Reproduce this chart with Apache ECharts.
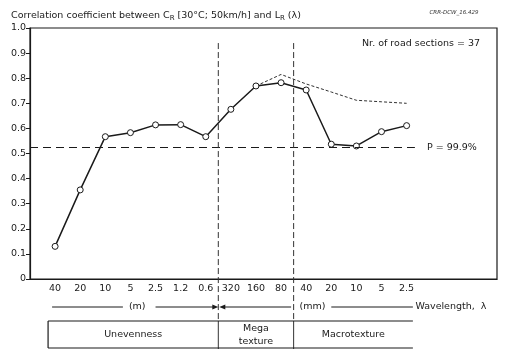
<!DOCTYPE html>
<html><head><meta charset="utf-8">
<script src="https://cdn.jsdelivr.net/npm/echarts@6/dist/echarts.min.js"></script>
<style>html,body{margin:0;padding:0;background:#fff}#c{width:507px;height:356px}</style>
</head><body><div id="c"></div>
<script>
// ---- data ----
const wavelengthLabels = ['40','20','10','5','2.5','1.2','0.6','320','160','80','40','20','10','5','2.5'];
const correlation      = [0.13,0.355,0.567,0.583,0.614,0.615,0.567,0.676,0.769,0.782,0.753,0.537,0.530,0.587,0.611];
const correlationUpper = [null,null,null,null,null,null,null,null,0.769,0.815,0.777,0.745,0.712,0.706,0.700];
const significanceLevel = 0.525;
const significanceLabel = 'P = 99.9%';
const regionBoundaries = [6.5, 9.5];
const regionNames = ['Unevenness', 'Mega\ntexture', 'Macrotexture'];
const yTickMin = 0, yTickMax = 1.0, yTickStep = 0.1;

const FONT = 'DejaVu Sans';
const INK = '#1a1a1a';
const chart = echarts.init(document.getElementById('c'), null, {renderer: 'canvas'});

const pairs = arr => arr.map((v, i) => [i, v]);

chart.setOption({
  animation: false,
  backgroundColor: '#fff',
  textStyle: {fontFamily: FONT, color: INK},
  title: {
    left: 6, top: 5,
    text: '{a|Correlation coefficient between C}{s|R}{a| [30°C; 50km/h] and L}{s|R}{a| (λ)}',
    textStyle: {
      fontWeight: 'normal',
      rich: {
        a: {fontFamily: FONT, fontSize: 9.5, fontWeight: 'normal', color: INK},
        s: {fontFamily: FONT, fontSize: 7, fontWeight: 'normal', color: INK, verticalAlign: 'bottom', padding: [5, 0, 0, 0]}
      }
    }
  },
  grid: {left: 30, right: 10, top: 28, bottom: 77, show: true, borderColor: INK, borderWidth: 1.2, containLabel: false},
  xAxis: {
    type: 'value', min: -1, max: 17.6, interval: 1,
    axisLine: {show: true, onZero: false, lineStyle: {color: INK, width: 1.2}},
    axisTick: {show: false},
    splitLine: {show: false},
    axisLabel: {
      showMaxLabel: false, showMinLabel: false,
      fontFamily: FONT, fontSize: 9.5, color: INK, margin: 5,
      formatter: v => (Number.isInteger(v) && v >= 0 && v < wavelengthLabels.length) ? wavelengthLabels[v] : ''
    }
  },
  yAxis: {
    type: 'value', min: yTickMin, max: yTickMax, interval: yTickStep,
    axisLine: {show: true, onZero: false, lineStyle: {color: INK, width: 1.2}},
    axisTick: {show: true, length: 4, lineStyle: {color: INK}},
    splitLine: {show: false},
    axisLabel: {fontFamily: FONT, fontSize: 9.5, color: INK, margin: 4,
      formatter: v => v === 0 ? '0' : v.toFixed(1)}
  },
  series: [
    {
      type: 'line', data: pairs(correlationUpper), showSymbol: false, connectNulls: false,
      lineStyle: {color: INK, width: 0.9, type: [3, 2]}, z: 2
    },
    {
      type: 'line', data: pairs(correlation), symbol: 'circle', symbolSize: 6,
      itemStyle: {color: '#fff', borderColor: INK, borderWidth: 1},
      lineStyle: {color: INK, width: 1.5}, z: 3,
      markLine: {
        silent: true, symbol: ['none', 'none'],
        lineStyle: {color: INK, width: 1.1, type: [8, 5]},
        label: {show: true, position: 'end', distance: 12, formatter: significanceLabel,
          fontFamily: FONT, fontSize: 9.5, color: INK},
        data: [[{coord: [-1, significanceLevel]}, {coord: [14.33, significanceLevel]}]]
      }
    }
  ]
});

// ---- annotations derived from the axes ----
const px = v => chart.convertToPixel({xAxisIndex: 0}, v);
const py = v => chart.convertToPixel({yAxisIndex: 0}, v);
const b1 = px(regionBoundaries[0]), b2 = px(regionBoundaries[1]);
const unitY = 307, boxTop = 321, boxBot = 348;
const boxLeft = px(-0.28), boxRight = px(14.25);
const txt = (x, y, s, o = {}) => ({type: 'text', x, y, style: Object.assign({text: s, fontFamily: FONT, fontSize: 9.5, fill: INK, textAlign: 'center', textVerticalAlign: 'middle'}, o), z: 10});
const ln = (x1, y1, x2, y2, o = {}) => ({type: 'line', shape: {x1, y1, x2, y2}, style: Object.assign({stroke: INK, lineWidth: 1}, o), z: 10});
const g = [];
regionBoundaries.forEach(b => {
  const x = px(b);
  g.push(ln(x, py(0.94), x, boxTop, {lineDash: [6, 3], stroke: '#333'}));
  g.push(ln(x, boxTop, x, boxBot + 1, {stroke: '#333'}));
});
// unit row
g.push(ln(px(-0.12), unitY, px(2.7), unitY));
g.push(txt(px(3.27), unitY, '(m)'));
g.push(ln(px(4.0), unitY, b1 - 5, unitY));
g.push({type: 'polygon', shape: {points: [[b1 - 6, unitY - 2.5], [b1, unitY], [b1 - 6, unitY + 2.5]]}, style: {fill: INK}, z: 10});
g.push({type: 'polygon', shape: {points: [[b1 + 7, unitY - 2.5], [b1 + 1, unitY], [b1 + 7, unitY + 2.5]]}, style: {fill: INK}, z: 10});
g.push(ln(b1 + 6, unitY, px(9.4), unitY));
g.push(txt(px(10.25), unitY, '(mm)'));
g.push(ln(px(11.0), unitY, px(14.25), unitY));
g.push(txt(px(14.35), unitY, 'Wavelength,  λ', {textAlign: 'left'}));
// region box
g.push(ln(boxLeft, boxTop, boxRight, boxTop, {lineWidth: 1.2}));
g.push(ln(boxLeft, boxBot, boxRight, boxBot, {lineWidth: 1.2}));
g.push(ln(boxLeft, boxTop, boxLeft, boxBot, {lineWidth: 1.2}));
const mid = (boxTop + boxBot) / 2 + 0.5;
g.push(txt((boxLeft + b1) / 2, mid, regionNames[0]));
g.push(txt((b1 + b2) / 2, mid, regionNames[1], {lineHeight: 13}));
g.push(txt((b2 + boxRight) / 2, mid, regionNames[2]));
// corner notes
g.push(txt(497 - 17, 44, 'Nr. of road sections = 37', {textAlign: 'right'}));
g.push(txt(454, 13, 'CRR-DCW_16.429', {fontSize: 5.5, fontStyle: 'italic', fill: '#333'}));
chart.setOption({graphic: g});
</script></body></html>
